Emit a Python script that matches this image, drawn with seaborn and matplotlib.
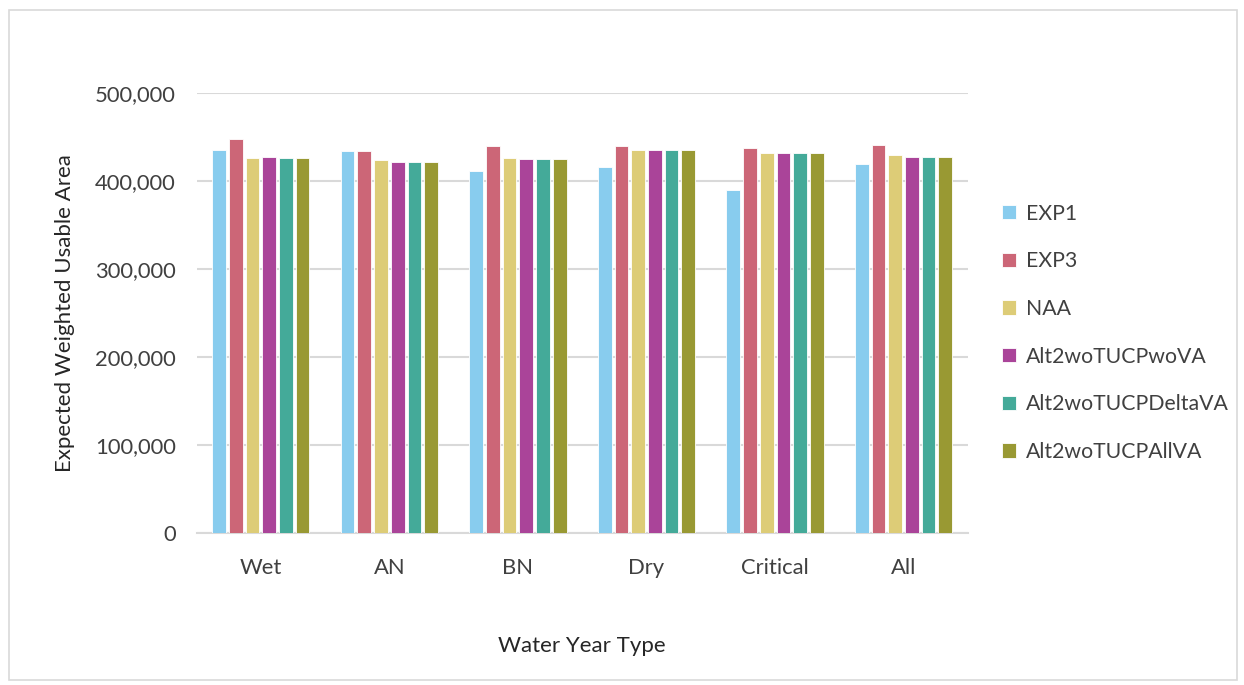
import matplotlib
matplotlib.use("Agg")
import matplotlib.pyplot as plt
import matplotlib.ticker as mticker
import matplotlib.patches as mpatches
import seaborn as sns
import pandas as pd

# data
year_types = ["Wet", "AN", "BN", "Dry", "Critical", "All"]
scenarios = ["EXP1", "EXP3", "NAA", "Alt2woTUCPwoVA", "Alt2woTUCPDeltaVA", "Alt2woTUCPAllVA"]
exp1 = [435000, 433700, 411700, 416300, 389400, 419000]
exp3 = [447400, 433700, 439800, 439800, 437900, 441300]
naa = [426500, 423500, 426500, 435200, 432200, 429500]
alt_wova = [427000, 422300, 425000, 435200, 432200, 427600]
alt_deltava = [426500, 422300, 425000, 435200, 432200, 427600]
alt_allva = [426500, 422300, 425000, 435200, 432200, 427600]
colors = ["#88CCEE", "#CC6677", "#DDCC77", "#AA4499", "#44AA99", "#999933"]

series = [exp1, exp3, naa, alt_wova, alt_deltava, alt_allva]
rows = []
for name, vals in zip(scenarios, series):
    for yt, v in zip(year_types, vals):
        rows.append({"Water Year Type": yt, "Scenario": name, "Area": v})
df = pd.DataFrame(rows)

sns.set_style("white")
plt.rcParams["font.family"] = ["Lato", "DejaVu Sans"]

fig = plt.figure(figsize=(12.44, 6.85), dpi=100)
ax = fig.add_axes([0.158, 0.222, 0.62, 0.642])

sns.barplot(df, x="Water Year Type", y="Area", hue="Scenario", hue_order=scenarios,
            order=year_types, palette=colors, width=0.78, gap=0.18,
            edgecolor="white", linewidth=0.6, saturation=1, ax=ax, zorder=3)

ax.set_ylim(0, 500000)
ax.set_yticks(range(0, 500001, 100000))
ax.yaxis.set_major_formatter(mticker.FuncFormatter(lambda v, p: f"{int(v):,}"))
ax.grid(axis="y", color="#d9d9d9", linewidth=1.5, zorder=0)
ax.set_axisbelow(True)
for s in ["top", "right", "left"]:
    ax.spines[s].set_visible(False)
ax.spines["bottom"].set_color("#d9d9d9")
ax.spines["bottom"].set_linewidth(1.5)
ax.tick_params(axis="y", length=0, labelsize=15.8, colors="#404040", pad=15)
ax.tick_params(axis="x", length=0, labelsize=15.8, colors="#404040", pad=18)
ax.set_xlabel("Water Year Type", fontsize=16, color="#262626", labelpad=42)
ax.set_ylabel("Expected Weighted Usable Area", fontsize=16, color="#262626", labelpad=14)

leg = ax.legend(loc="center left", bbox_to_anchor=(1.02, 0.455), frameon=False,
                fontsize=15.3, handlelength=0.65, handleheight=0.65, handletextpad=0.45,
                labelspacing=1.3)
for t in leg.get_texts():
    t.set_color("#404040")

fig.patches.append(mpatches.Rectangle((0.007, 0.008), 0.987, 0.978, transform=fig.transFigure,
                                      fill=False, edgecolor="#d9d9d9", linewidth=1.2))

fig.savefig("out.png", dpi=100)
